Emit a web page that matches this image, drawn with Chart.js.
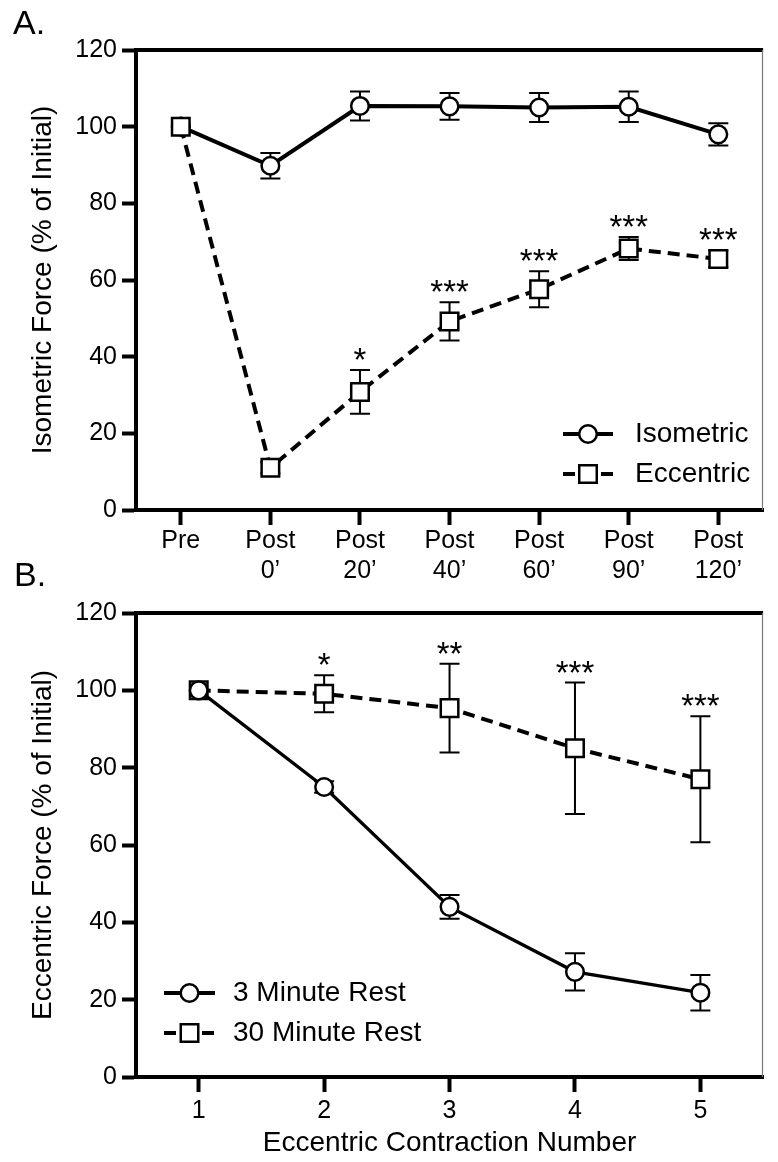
<!DOCTYPE html>
<html>
<head>
<meta charset="utf-8">
<script src="https://cdn.jsdelivr.net/npm/chart.js@4.4.1/dist/chart.umd.min.js"></script>
<style>
  html, body { margin: 0; padding: 0; background: #fff; }
  body { width: 778px; height: 1162px; position: relative; overflow: hidden; }
  canvas { position: absolute; left: 0; }
  #chartA { top: 0; }
  #chartB { top: 550px; }
</style>
</head>
<body>
<canvas id="chartA" width="778" height="580"></canvas>
<canvas id="chartB" width="778" height="612"></canvas>
<script>
const timeLabels = ["Pre", ["Post", "0\u2019"], ["Post", "20\u2019"], ["Post", "40\u2019"], ["Post", "60\u2019"], ["Post", "90\u2019"], ["Post", "120\u2019"]];
const isometricForce = [100, 89.8, 105.4, 105.3, 105.0, 105.2, 98.0];
const isometricError = [0, 3.3, 3.8, 3.5, 3.8, 4.0, 2.9];
const eccentricForce = [100, 11.0, 30.8, 49.2, 57.6, 68.2, 65.5];
const eccentricError = [0, 1.5, 5.7, 5.0, 4.7, 3.0, 2.2];
const eccentricStars = ["", "", "*", "***", "***", "***", "***"];

const contractionLabels = ["1", "2", "3", "4", "5"];
const shortRestForce = [100, 75.0, 44.0, 27.2, 21.8];
const shortRestError = [0, 1.5, 3.1, 4.8, 4.6];
const longRestForce = [100, 99.1, 95.4, 85.0, 77.0];
const longRestError = [0, 4.8, 11.5, 17.0, 16.3];
const longRestStars = ["", "*", "**", "***", "***"];

const FONT = "'Liberation Sans', Arial, Helvetica, sans-serif";

// error bars under the markers, asterisks above the bars
const errorBarPlugin = {
  id: "errorBars",
  beforeDatasetsDraw(chart) {
    const { ctx } = chart;
    const yScale = chart.scales.y;
    ctx.save();
    ctx.strokeStyle = "#000";
    ctx.lineWidth = 2;
    chart.data.datasets.forEach((dataset, i) => {
      chart.getDatasetMeta(i).data.forEach((point, index) => {
        const err = dataset.errors[index];
        if (!err) return;
        const top = yScale.getPixelForValue(dataset.data[index] + err);
        const bottom = yScale.getPixelForValue(dataset.data[index] - err);
        ctx.beginPath();
        ctx.moveTo(point.x, top);
        ctx.lineTo(point.x, bottom);
        ctx.moveTo(point.x - 10, top);
        ctx.lineTo(point.x + 10, top);
        ctx.moveTo(point.x - 10, bottom);
        ctx.lineTo(point.x + 10, bottom);
        ctx.stroke();
      });
    });
    ctx.restore();
  },
  afterDatasetsDraw(chart) {
    const { ctx } = chart;
    const yScale = chart.scales.y;
    ctx.save();
    ctx.fillStyle = "#000";
    ctx.font = `33px ${FONT}`;
    ctx.textAlign = "center";
    ctx.textBaseline = "alphabetic";
    chart.data.datasets.forEach((dataset, i) => {
      if (!dataset.stars) return;
      chart.getDatasetMeta(i).data.forEach((point, index) => {
        const mark = dataset.stars[index];
        if (!mark) return;
        const top = yScale.getPixelForValue(dataset.data[index] + dataset.errors[index]);
        ctx.fillText(mark, point.x, top + 1);
      });
    });
    ctx.restore();
  }
};

function drawMarker(ctx, style, x, y) {
  ctx.save();
  ctx.fillStyle = "#fff";
  ctx.strokeStyle = "#000";
  ctx.lineWidth = 2.5;
  ctx.setLineDash([]);
  ctx.beginPath();
  if (style === "rect") {
    ctx.rect(x - 8.75, y - 8.75, 17.5, 17.5);
  } else {
    ctx.arc(x, y, 8.8, 0, Math.PI * 2);
  }
  ctx.fill();
  ctx.stroke();
  ctx.restore();
}

const markerLegendPlugin = {
  id: "markerLegend",
  afterDraw(chart, args, opts) {
    const { ctx } = chart;
    chart.data.datasets.forEach((dataset, i) => {
      const y = opts.top + i * opts.rowGap;
      ctx.save();
      ctx.strokeStyle = "#000";
      ctx.lineWidth = 4;
      ctx.setLineDash(dataset.borderDash || []);
      ctx.beginPath();
      ctx.moveTo(opts.left, y);
      ctx.lineTo(opts.left + opts.symbolWidth, y);
      ctx.stroke();
      ctx.restore();
      drawMarker(ctx, dataset.pointStyle, opts.left + opts.symbolWidth / 2, y);
      ctx.save();
      ctx.fillStyle = "#000";
      ctx.font = `28px ${FONT}`;
      ctx.textAlign = "left";
      ctx.textBaseline = "middle";
      ctx.fillText(dataset.label, opts.textLeft, y);
      ctx.restore();
    });
  }
};

const framePlugin = {
  id: "frame",
  afterDraw(chart, args, opts) {
    const { ctx, chartArea } = chart;
    ctx.save();
    ctx.strokeStyle = "#000";
    ctx.lineWidth = 4;
    ctx.beginPath();
    ctx.moveTo(chartArea.left, chartArea.top);
    ctx.lineTo(chartArea.right, chartArea.top);
    ctx.stroke();
    ctx.strokeStyle = "#777";
    ctx.lineWidth = 1.2;
    ctx.beginPath();
    ctx.moveTo(chartArea.right - 0.6, chartArea.top);
    ctx.lineTo(chartArea.right - 0.6, chartArea.bottom);
    ctx.stroke();
    ctx.fillStyle = "#000";
    ctx.font = `34px ${FONT}`;
    ctx.textAlign = "left";
    ctx.textBaseline = "alphabetic";
    ctx.fillText(opts.label, opts.x, opts.y);
    ctx.restore();
  }
};

function lineDataset(label, data, errors, stars, dashed, style, width, order) {
  return {
    label,
    data,
    errors,
    stars,
    order,
    borderColor: "#000",
    borderWidth: width,
    borderDash: dashed ? [12, 7] : [],
    tension: 0,
    fill: false,
    pointStyle: style,
    pointRadius: style === "rect" ? 12.4 : 8.8,
    pointBorderWidth: 2.5,
    pointBackgroundColor: "#fff",
    pointBorderColor: "#000"
  };
}

function panelOptions(cfg) {
  return {
    responsive: false,
    animation: false,
    events: [],
    layout: { padding: { top: cfg.top, right: 1, left: 0, bottom: 0 } },
    plugins: {
      legend: { display: false },
      tooltip: { enabled: false },
      markerLegend: cfg.legend,
      frame: cfg.panel
    },
    scales: {
      x: {
        type: "category",
        offset: true,
        afterFit: scale => { scale.height = cfg.xHeight; },
        border: { display: true, width: 4, color: "#000" },
        grid: { display: true, drawOnChartArea: false, drawTicks: true, tickLength: 15, tickWidth: 4, tickColor: "#000" },
        ticks: {
          color: "#000",
          font: { family: FONT, size: 25, lineHeight: 1.2 },
          padding: cfg.xPad,
          maxRotation: 0,
          autoSkip: false
        },
        title: cfg.xTitle
          ? { display: true, text: cfg.xTitle, color: "#000", font: { family: FONT, size: 28 }, padding: { top: 0, bottom: 2 } }
          : { display: false }
      },
      y: {
        min: 0,
        max: 120,
        afterFit: scale => { scale.width = 136; },
        border: { display: true, width: 4, color: "#000" },
        grid: { display: true, drawOnChartArea: false, drawTicks: true, tickLength: 14, tickWidth: 4, tickColor: "#000" },
        ticks: {
          stepSize: 20,
          color: "#000",
          font: { family: FONT, size: 25 },
          padding: 5
        },
        title: {
          display: true,
          text: cfg.yTitle,
          color: "#000",
          font: { family: FONT, size: 28 },
          padding: { top: 26, bottom: 0 }
        }
      }
    }
  };
}

new Chart(document.getElementById("chartA"), {
  type: "line",
  data: {
    labels: timeLabels,
    datasets: [
      lineDataset("Isometric", isometricForce, isometricError, null, false, "circle", 4, 2),
      lineDataset("Eccentric", eccentricForce, eccentricError, eccentricStars, true, "rect", 4, 1)
    ]
  },
  options: panelOptions({
    top: 50,
    xHeight: 70,
    xPad: 1,
    yTitle: "Isometric Force (% of Initial)",
    legend: { left: 563, symbolWidth: 50, textLeft: 635, top: 434, rowGap: 40 },
    panel: { label: "A.", x: 13, y: 34 }
  }),
  plugins: [errorBarPlugin, markerLegendPlugin, framePlugin]
});

new Chart(document.getElementById("chartB"), {
  type: "line",
  data: {
    labels: contractionLabels,
    datasets: [
      lineDataset("3 Minute Rest", shortRestForce, shortRestError, null, false, "circle", 3.3, 0),
      lineDataset("30 Minute Rest", longRestForce, longRestError, longRestStars, true, "rect", 4, 0)
    ]
  },
  options: panelOptions({
    top: 63,
    xHeight: 85,
    xPad: 4,
    yTitle: "Eccentric Force (% of Initial)",
    xTitle: "Eccentric Contraction Number",
    legend: { left: 164, symbolWidth: 51, textLeft: 233, top: 443, rowGap: 40 },
    panel: { label: "B.", x: 14, y: 36 }
  }),
  plugins: [errorBarPlugin, markerLegendPlugin, framePlugin]
});
</script>
</body>
</html>
